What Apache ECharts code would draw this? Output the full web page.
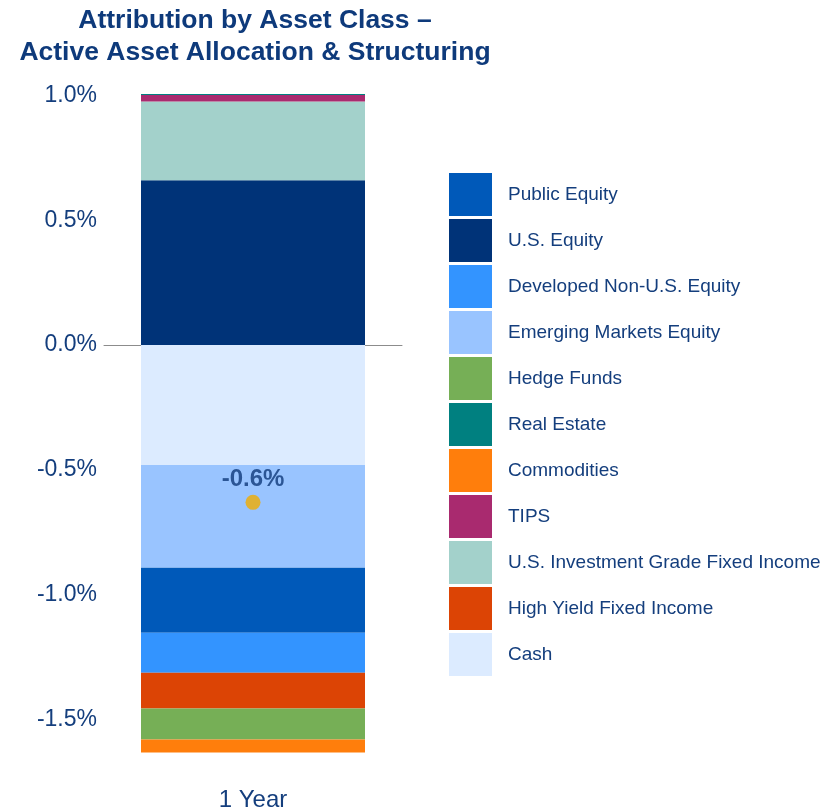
<!DOCTYPE html>
<html><head><meta charset="utf-8">
<script src="https://cdn.jsdelivr.net/npm/echarts@6/dist/echarts.min.js"></script>
<style>html,body{margin:0;padding:0;background:#fff}#c{width:839px;height:812px}</style>
</head><body><div id="c"></div>
<script>
const categories = ['1 Year'];
const legendOrder = ['Public Equity','U.S. Equity','Developed Non-U.S. Equity','Emerging Markets Equity','Hedge Funds','Real Estate','Commodities','TIPS','U.S. Investment Grade Fixed Income','High Yield Fixed Income','Cash'];
// stacking order (nearest zero first)
const seriesNames = ['Cash','Emerging Markets Equity','Public Equity','Developed Non-U.S. Equity','High Yield Fixed Income','Hedge Funds','Commodities','U.S. Equity','U.S. Investment Grade Fixed Income','TIPS','Real Estate'];
const cash = [-0.48];
const emergingMarkets = [-0.412];
const publicEquity = [-0.26];
const developedNonUS = [-0.16];
const highYield = [-0.144];
const hedgeFunds = [-0.124];
const commodities = [-0.052];
const usEquity = [0.66];
const usInvGrade = [0.316];
const tips = [0.026];
const realEstate = [0.004];
const total = [-0.63];
const totalLabel = ['-0.6%'];
const yTickLabels = ['-1.5%','-1.0%','-0.5%','0.0%','0.5%','1.0%'];

const seriesValues = [cash, emergingMarkets, publicEquity, developedNonUS, highYield, hedgeFunds, commodities, usEquity, usInvGrade, tips, realEstate];
const colors = {
  'Public Equity':'#0059B9','U.S. Equity':'#003378','Developed Non-U.S. Equity':'#3394FF',
  'Emerging Markets Equity':'#99C4FF','Hedge Funds':'#76AF56','Real Estate':'#008080',
  'Commodities':'#FF7E0C','TIPS':'#A92A6F','U.S. Investment Grade Fixed Income':'#A3D1CB',
  'High Yield Fixed Income':'#DC4405','Cash':'#DCEBFF'
};
const navy = '#143E7D';
const chart = echarts.init(document.getElementById('c'), null, {renderer:'canvas'});
const series = seriesNames.map((n,i)=>({
  name:n, type:'bar', stack:'a', data:seriesValues[i], barWidth:224,
  itemStyle:{color:colors[n]}, emphasis:{disabled:true}
}));
series.push({
  name:'Total', type:'scatter', data:total, symbolSize:15, z:10,
  itemStyle:{color:'#F0AD00'},
  label:{show:true, position:'top', distance:3, formatter:(p)=>totalLabel[p.dataIndex],
    fontFamily:'Liberation Sans, Arial', fontWeight:'bold', fontSize:24, color:'#0F3A7A'}
});
chart.setOption({
  animation:false,
  title:{text:'Attribution by Asset Class –\nActive Asset Allocation & Structuring',
    left:250, textAlign:'center', top:0,
    textStyle:{fontFamily:'Liberation Sans, Arial', fontWeight:'bold', fontSize:26.5, lineHeight:32, color:'#0E3A7B'}},
  legend:{data:legendOrder, orient:'vertical', left:444, top:168, itemWidth:43, itemHeight:43, itemGap:3,
    icon:'rect', selectedMode:false,
    textStyle:{fontFamily:'Liberation Sans, Arial', fontSize:19, color:navy, padding:[0,0,0,11]}},
  grid:{left:104, right:437, top:33, bottom:29, containLabel:false},
  xAxis:{type:'category', data:categories,
    axisLine:{show:true, onZero:true, lineStyle:{color:'#8C8C8C', width:1}},
    axisTick:{show:false},
    axisLabel:{fontFamily:'Liberation Sans, Arial', fontSize:24, color:navy, margin:6}},
  yAxis:{type:'value', min:-1.75, max:1.25, interval:0.25,
    splitLine:{show:false}, axisLine:{show:false}, axisTick:{show:false},
    axisLabel:{fontFamily:'Liberation Sans, Arial', fontSize:23, color:navy, margin:7, padding:[4,0,0,0],
      formatter:(v)=>{const k=Math.round(v*2); if(Math.abs(v*2-k)>1e-6) return ''; const idx=k+3; return (idx>=0&&idx<yTickLabels.length)?yTickLabels[idx]:'';}}},
  series:series
});
</script></body></html>
